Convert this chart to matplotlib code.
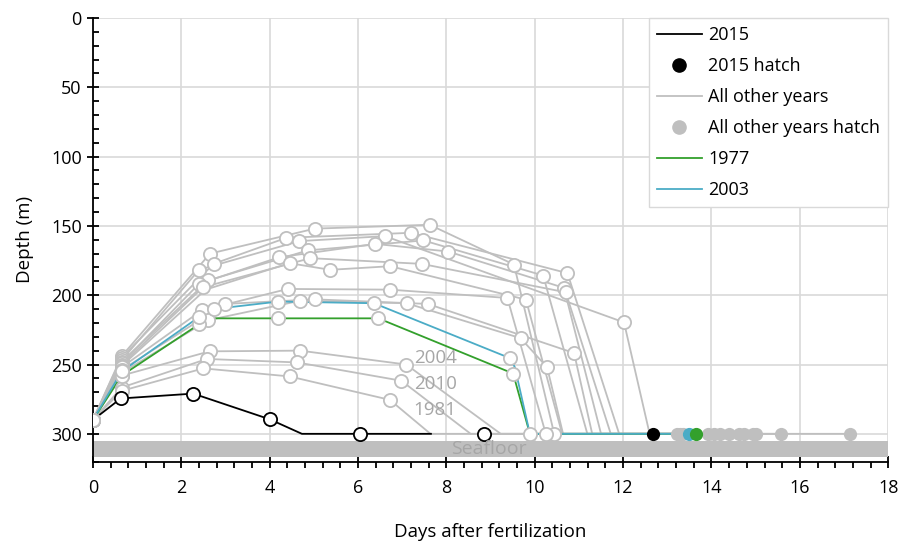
import matplotlib.pyplot as plt
from matplotlib.ticker import MultipleLocator
from matplotlib.lines import Line2D

plt.rcParams['font.family'] = ['Open Sans', 'DejaVu Sans']

# ---- data (days after fertilization, depth in m) ----
# 2015
days_2015 = [0, 0.63, 2.27, 4.0, 4.73, 7.65]
depth_2015 = [290, 274.5, 271, 289.5, 300, 300]
obs_days_2015 = [0.63, 2.27, 4.0, 6.04, 8.85]
obs_depth_2015 = [274.5, 271, 289.5, 300, 300]
hatch_2015 = 12.67

# 1977 (last point = hatch)
days_1977 = [0, 0.65, 2.41, 2.77, 4.19, 6.46, 9.51, 9.89, 13.64]
depth_1977 = [290, 258, 220.8, 216.7, 216.7, 216.7, 256.5, 300, 300]
obs_1977 = [1, 1, 1, 0, 1, 1, 1, 0, 0]

# 2003 (last point = hatch)
days_2003 = [0, 0.65, 2.39, 2.73, 4.20, 6.36, 9.43, 9.55, 9.89, 13.5]
depth_2003 = [290, 255, 216, 210, 204.6, 205.8, 245.3, 252, 300, 300]
obs_2003 = [1, 1, 1, 1, 1, 1, 1, 0, 1, 0]

# all other years (last point of each = hatch)
gray_days = [
    [0, 0.65, 2.65, 5.02, 7.62, 9.53, 10.44, 13.23],
    [0, 0.65, 2.73, 4.38, 7.20, 10.74, 11.91, 15.58],
    [0, 0.65, 2.40, 4.67, 6.61, 12.02, 12.6, 17.13],
    [0, 0.65, 2.61, 4.86, 7.48, 10.19, 11.19, 14.40],
    [0, 0.65, 2.40, 4.22, 6.39, 8.04, 10.66, 11.5, 14.94],
    [0, 0.65, 2.49, 4.92, 7.44, 10.70, 11.72, 14.06],
    [0, 0.65, 2.55, 4.45, 5.37, 6.73, 9.80, 10.62, 14.63],
    [0, 0.65, 2.46, 4.41, 6.72, 9.38, 10.25, 13.92],
    [0, 0.65, 2.61, 4.69, 7.10, 9.68, 10.28, 10.64, 14.74],
    [0, 0.65, 2.99, 5.02, 7.58, 10.89, 11.3, 13.35],
    [0, 0.65, 2.64, 4.69, 7.09, 9.23, 15.0],
    [0, 0.65, 2.58, 4.62, 6.98, 8.55, 13.28],
    [0, 0.65, 2.50, 4.45, 6.72, 7.64, 14.2],
]
gray_depth = [
    [290, 244, 170, 152, 149.2, 177.9, 300, 300],
    [290, 245, 177.4, 158.6, 155, 184.1, 300, 300],
    [290, 247, 181.7, 161, 157.4, 219.6, 300, 300],
    [290, 248, 189.4, 167.7, 160.5, 185.8, 300, 300],
    [290, 249, 191.8, 172.6, 163, 168.5, 194.7, 300, 300],
    [290, 250, 194.3, 173.3, 177.4, 197.9, 300, 300],
    [290, 251, 196, 176.9, 181.7, 179.1, 203.2, 300, 300],
    [290, 252, 211, 195.5, 196, 202, 300, 300],
    [290, 256, 218, 204, 205.8, 231, 252, 300, 300],
    [290, 254, 206.3, 203, 206.3, 241.7, 300, 300],
    [290, 258, 240.5, 240, 250, 300, 300],
    [290, 266.6, 246, 248.5, 261.7, 300, 300],
    [290, 269, 252.8, 258.6, 275.5, 300, 300],
]
gray_obs = [
    [1, 1, 1, 1, 1, 1, 1, 0],
    [1, 1, 1, 1, 1, 1, 0, 0],
    [1, 1, 1, 1, 1, 1, 0, 0],
    [1, 1, 1, 1, 1, 1, 0, 0],
    [1, 1, 1, 1, 1, 1, 1, 0, 0],
    [1, 1, 1, 1, 1, 1, 0, 0],
    [1, 1, 0, 1, 1, 1, 1, 0, 0],
    [1, 1, 1, 1, 1, 1, 1, 0],
    [1, 1, 1, 1, 1, 1, 1, 0, 0],
    [1, 1, 1, 1, 1, 1, 0, 0],
    [1, 1, 1, 1, 1, 0, 0],
    [1, 1, 1, 1, 1, 0, 0],
    [1, 1, 1, 1, 1, 0, 0],
]
year_labels = ['2004', '2010', '1981']
year_label_depth = [245, 264, 283]

GRAY = '#BFBFBF'
GREEN = '#33A02C'
BLUE = '#4BACC6'
TXT_GRAY = '#A6A6A6'

fig = plt.figure(figsize=(9.11, 5.43), dpi=100)
ax = fig.add_axes([0.102, 0.150, 0.873, 0.817])

mk = dict(linestyle='none', marker='o', ms=9.5, mfc='white', mew=1.3)

def obs_points(xs, ys, flags):
    px = [x for x, f in zip(xs, flags) if f]
    py = [y for y, f in zip(ys, flags) if f]
    return px, py

# other years
for xs, ys, fl in zip(gray_days, gray_depth, gray_obs):
    ax.plot(xs, ys, color=GRAY, lw=1.3, zorder=2)
    px, py = obs_points(xs, ys, fl)
    ax.plot(px, py, mec=GRAY, zorder=5, **mk)
    ax.plot(xs[-1], ys[-1], 'o', color=GRAY, ms=9.5, mew=0, zorder=5)

# 1977 and 2003
for xs, ys, fl, c in [(days_1977, depth_1977, obs_1977, GREEN),
                      (days_2003, depth_2003, obs_2003, BLUE)]:
    ax.plot(xs, ys, color=c, lw=1.3, zorder=3)
    px, py = obs_points(xs, ys, fl)
    ax.plot(px, py, mec=GRAY, zorder=5, **mk)
for xs, ys, c in [(days_2003, depth_2003, BLUE), (days_1977, depth_1977, GREEN)]:
    ax.plot(xs[-1], ys[-1], 'o', color=c, ms=9.5, mew=0, zorder=6)

# 2015
ax.plot(days_2015, depth_2015, color='black', lw=1.3, zorder=4)
ax.plot(obs_days_2015, obs_depth_2015, mec='black', zorder=6, **mk)
ax.plot(hatch_2015, 300, 'o', color='black', ms=9.5, mew=0, zorder=6)

# seafloor
ax.axhspan(305, 317, color=GRAY, lw=0, zorder=1)
ax.text(8.96, 311, 'Seafloor', ha='center', va='center', color=TXT_GRAY,
        fontsize=14, zorder=7)

for lab, d in zip(year_labels, year_label_depth):
    ax.text(7.26, d, lab, ha='left', va='center', color=TXT_GRAY, fontsize=13.5, zorder=7)

ax.set_xlim(0, 18)
ax.set_ylim(320, 0)
ax.xaxis.set_major_locator(MultipleLocator(2))
ax.xaxis.set_minor_locator(MultipleLocator(0.4))
ax.yaxis.set_major_locator(MultipleLocator(50))
ax.yaxis.set_minor_locator(MultipleLocator(10))
ax.set_yticks([0, 50, 100, 150, 200, 250, 300])

ax.grid(True, which='major', color='#D9D9D9', lw=1.2, zorder=0)
ax.set_axisbelow(True)
for s in ['top', 'right']:
    ax.spines[s].set_visible(False)
for s in ['left', 'bottom']:
    ax.spines[s].set_color('black')
    ax.spines[s].set_linewidth(1.3)

ax.tick_params(axis='x', which='major', direction='inout', length=9, width=1.3, labelsize=13, pad=8)
ax.tick_params(axis='x', which='minor', direction='out', length=4, width=1.3)
ax.tick_params(axis='y', which='major', direction='inout', length=9, width=1.3, labelsize=13)
ax.tick_params(axis='y', which='minor', direction='in', length=4, width=1.3)

ax.set_xlabel('Days after fertilization', fontsize=13.5, labelpad=19)
ax.set_ylabel('Depth (m)', fontsize=13.5, labelpad=12)

handles = [
    Line2D([], [], color='black', lw=1.3),
    Line2D([], [], color='black', marker='o', ls='none', ms=9.5),
    Line2D([], [], color=GRAY, lw=1.3),
    Line2D([], [], color=GRAY, marker='o', ls='none', ms=9.5),
    Line2D([], [], color=GREEN, lw=1.3),
    Line2D([], [], color=BLUE, lw=1.3),
]
labels = ['2015', '2015 hatch', 'All other years', 'All other years hatch', '1977', '2003']
leg = ax.legend(handles, labels, loc='upper right', bbox_to_anchor=(1.0, 1.0),
                fontsize=13, frameon=True, fancybox=False, framealpha=1,
                edgecolor='#D9D9D9', handlelength=2.5, labelspacing=0.72,
                borderaxespad=0, borderpad=0.45, handletextpad=0.35)
leg.get_frame().set_linewidth(1.0)
leg.set_zorder(10)

fig.savefig('out.png', dpi=100)
